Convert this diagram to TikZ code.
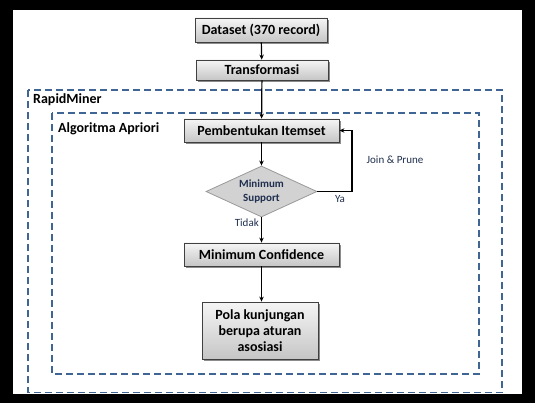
\documentclass[tikz,border=0pt]{standalone}
\usepackage{fontspec}
\setmainfont{Carlito}
\usetikzlibrary{shapes.geometric,shadows,arrows.meta}
\definecolor{dashblue}{HTML}{3F6595}
\definecolor{lbl}{HTML}{1F2F4F}
\tikzset{
  procbox/.style={draw=black!75, line width=0.8pt, shading=axis, top color=gray!8, bottom color=gray!45,
    drop shadow={shadow xshift=2pt, shadow yshift=-2pt, opacity=0.45, fill=black},
    font=\fontsize{14}{16}\selectfont\bfseries, align=center, inner sep=1pt},
  decbox/.style={diamond, draw=gray!80, line width=0.8pt, fill=gray!35, aspect=2.2, inner sep=0pt,
    font=\fontsize{11}{14}\selectfont\bfseries, text=lbl, align=center},
  flow/.style={-{Stealth[length=5pt,width=4.5pt]}, line width=1.2pt, black},
  region/.style={draw=dashblue, line width=1.4pt, dash pattern=on 7pt off 4pt},
  regionlabel/.style={anchor=west, font=\fontsize{14}{16}\selectfont\bfseries, inner sep=0pt},
  smalllabel/.style={font=\fontsize{11}{13}\selectfont, text=lbl, inner sep=0pt}
}
\begin{document}
\begin{tikzpicture}[x=1pt,y=-1pt]
\useasboundingbox (0,0) rectangle (535,403);
\fill[black] (0,0) rectangle (535,403);
\fill[white] (13,10) rectangle (522,394);
\draw[region] (28,90) rectangle (502,392.5);
\draw[region] (52,113) rectangle (479,374);
\node[regionlabel] (rm) at (33,99.5) {RapidMiner};
\node[regionlabel] (aa) at (58,128.5) {Algoritma Apriori};

\node[procbox, minimum width=132pt, minimum height=24pt] (ds) at (261,30) {Dataset (370 record)};
\node[procbox, minimum width=132pt, minimum height=20pt] (tf) at (262,70) {Transformasi};
\node[procbox, minimum width=155pt, minimum height=23pt] (pb) at (261.5,130.5) {Pembentukan Itemset};
\node[decbox, minimum width=111pt, minimum height=51pt] (ms) at (261.5,191.5) {Minimum\\Support};
\node[procbox, minimum width=155pt, minimum height=23pt] (mc) at (261.5,254.5) {Minimum Confidence};
\node[procbox, minimum width=116pt, minimum height=57pt] (pk) at (260,330.5) {Pola kunjungan\\berupa aturan\\asosiasi};

\draw[flow] (ds) -- (tf);
\draw[flow] (tf) -- (pb);
\draw[flow] (pb) -- (ms);
\draw[flow] (ms) -- (mc);
\draw[flow] (mc) -- (mc |- pk.north);
\coordinate (fb) at (352,191.5);
\draw[flow] (ms.east) -- (fb) |- (pb.east);

\node[smalllabel] (jp) at (395,160) {Join \& Prune};
\node[smalllabel] (ya) at (340,199) {Ya};
\node[smalllabel, anchor=east] (td) at (259,223) {Tidak};
\end{tikzpicture}
\end{document}
